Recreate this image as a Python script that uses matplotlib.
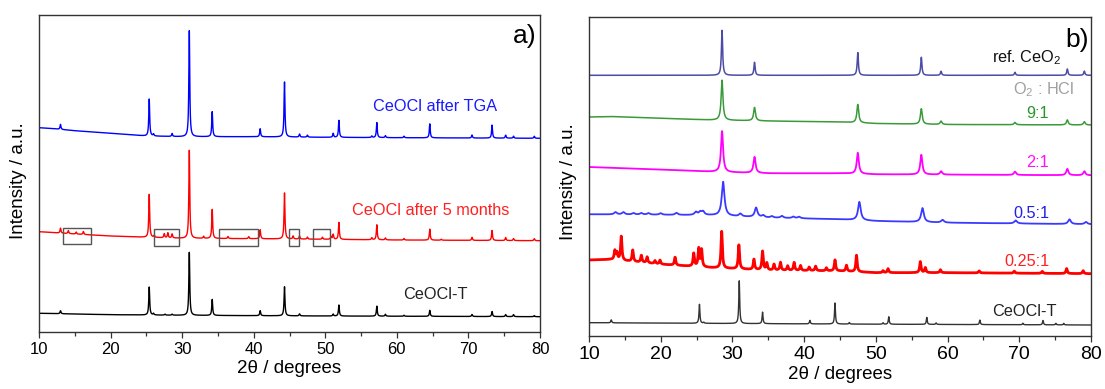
import numpy as np
import matplotlib
matplotlib.use("Agg")
import matplotlib.pyplot as plt
from matplotlib.patches import Rectangle
from matplotlib.ticker import MultipleLocator

plt.rcParams['font.family'] = ['Liberation Sans', 'DejaVu Sans']
plt.rcParams['mathtext.fontset'] = 'custom'
plt.rcParams['mathtext.rm'] = 'Liberation Sans'

# ================= panel a) data (arbitrary intensity units) =================
a_black_base_x = [10, 20, 30, 50, 80]
a_black_base_y = [18.7, 17.3, 16.7, 16.0, 15.3]
a_black_pos = [13.0, 25.4, 26.0, 27.6, 28.6, 31.0, 34.2, 40.9, 44.3, 46.4, 51.1, 51.9,
               57.2, 58.4, 61.0, 64.6, 70.5, 73.3, 75.2, 76.3, 79.2]
a_black_h = [3, 28, 1.5, 1, 1, 63, 16, 5, 29, 2, 2, 11, 10, 2, 1, 6, 2, 5, 2, 2, 1]

a_red_base_x = [10, 15, 20, 25, 30, 40, 50, 60, 80]
a_red_base_y = [100.3, 98.0, 96.0, 94.7, 93.7, 93.3, 92.7, 92.0, 91.3]
a_red_pos = [13.0, 14.1, 15.2, 16.2, 25.4, 26.1, 27.5, 28.0, 28.6, 31.0, 33.0, 34.2,
             36.4, 39.3, 40.9, 44.3, 45.5, 46.4, 47.5, 49.6, 50.8, 51.1, 51.9, 56.5,
             57.2, 58.4, 61.0, 64.6, 66.2, 70.5, 73.3, 75.2, 76.3, 79.2]
a_red_h = [5, 3, 2, 3, 43, 2, 4, 5, 4, 88, 2, 29, 2, 2, 9, 46, 3, 3, 2, 2, 3, 5, 17, 2,
           15, 2, 1.5, 11, 1, 3, 10, 3, 2, 2]

a_blue_base_x = [10, 12, 15, 20, 25, 30, 40, 50, 60, 80]
a_blue_base_y = [204.3, 203.3, 201.3, 198.7, 196.0, 195.3, 195.3, 194.7, 194.3, 193.7]
a_blue_pos = [13.0, 25.4, 26.0, 28.6, 31.0, 34.2, 40.9, 44.3, 46.4, 47.5, 51.1, 51.9,
              56.5, 57.2, 58.4, 61.0, 64.6, 70.5, 73.3, 75.2, 76.3, 79.2]
a_blue_h = [5, 37, 2, 3, 106, 25, 8, 55, 3, 2, 4, 17, 1.5, 15, 2, 1.5, 14, 3, 13, 3, 2, 2]

# highlighted regions on the red pattern: (2theta_min, 2theta_max, y_min, y_max)
a_boxes = [(13.3, 17.2, 87.7, 104.3),
           (26.0, 29.6, 86.0, 102.7),
           (35.1, 40.6, 86.0, 102.7),
           (44.9, 46.3, 86.0, 103.3),
           (48.3, 50.7, 86.0, 102.7)]

# ================= panel b) data =================
b_black_base_x = [10, 30, 50, 80]
b_black_base_y = [13.3, 12.5, 11.8, 11.0]
b_black_pos = [13.1, 25.4, 26.0, 30.95, 34.2, 40.8, 44.3, 46.3, 51.0, 51.8, 57.1,
               58.4, 64.5, 70.5, 73.3, 75.1, 76.2]
b_black_h = [3, 19, 1, 42.7, 11.5, 3.5, 21, 1.5, 1.5, 7.5, 7, 1.5, 4.5, 1.5, 4.3, 1.5, 1.5]

b_red_base_x = [10, 13, 20, 27, 35, 45, 50, 60, 80]
b_red_base_y = [76.0, 76.5, 71.7, 68.3, 65.7, 65.0, 63.3, 63.3, 62.3]
b_red_pos = [13.6, 13.9, 14.5, 16.1, 17.3, 18.1, 19.2, 19.9, 22.0, 24.6, 25.3, 25.7,
             28.5, 30.9, 33.0, 34.2, 34.8, 35.8, 36.7, 37.7, 38.6, 39.5, 40.7, 41.6,
             43.1, 44.3, 45.9, 47.3, 51.0, 51.7, 56.2, 56.9, 59.0, 64.4, 69.3, 73.2,
             76.6, 78.9]
b_red_h = [9, 7, 24, 11.5, 7, 6, 3, 4, 8, 13, 18, 17,
           36.7, 24, 10.3, 18.7, 7, 6, 8, 4.5, 8, 5, 3.5, 4.5,
           3, 11, 6, 16.5, 2, 4, 11, 5, 3, 2, 2, 2, 5, 3]

b_blue_base_x = [10, 20, 27, 35, 45, 50, 60, 80]
b_blue_base_y = [121.7, 121.2, 120.7, 118.3, 116.7, 115.0, 113.3, 111.7]
b_blue_pos = [13.7, 14.8, 16.2, 17.3, 18.3, 20.0, 22.2, 24.9, 25.5, 25.9, 28.7, 31.1,
              33.3, 34.3, 35.5, 36.9, 38.5, 39.3, 47.7, 56.5, 59.3, 69.5, 77.0, 79.3]
b_blue_h = [2.3, 2.3, 1.5, 1.5, 1.5, 1.5, 2, 3, 3, 3.5, 34, 2.7,
            9.5, 2, 1.5, 2, 1.5, 1.5, 18.3, 14, 2.7, 3, 4.7, 2.3]

b_magenta_base_x = [10, 20, 28, 35, 45, 50, 80]
b_magenta_base_y = [169.0, 166.5, 164.0, 162.7, 162.7, 161.7, 160.7]
b_magenta_pos = [28.55, 33.08, 47.48, 56.34, 59.09, 69.4, 76.7, 79.07]
b_magenta_h = [41, 16, 21, 19.7, 3.3, 3.3, 6.3, 4]

b_green_base_x = [10, 13, 20, 27, 35, 45, 50, 60, 80]
b_green_base_y = [219.0, 219.5, 217.7, 216.0, 215.0, 214.0, 212.5, 211.5, 211.0]
b_green_pos = [28.55, 33.08, 47.48, 56.34, 59.09, 69.4, 76.7, 79.07]
b_green_h = [40, 13.3, 18.3, 15.4, 3.3, 2.3, 5, 3.3]

b_ref_base_x = [10, 80]
b_ref_base_y = [260.7, 260.7]
b_ref_pos = [28.55, 33.08, 47.48, 56.34, 59.09, 69.4, 76.7, 79.07]
b_ref_h = [45, 13, 22.7, 18, 4, 3, 6.3, 4.2]

tick_values = [10, 20, 30, 40, 50, 60, 70, 80]

# ================= helpers =================
two_theta = np.linspace(10, 80, 7001)


def pattern(bx, by, pos, h, fwhm):
    y = np.interp(two_theta, bx, by)
    hw = fwhm / 2.0
    for p, a in zip(pos, h):
        y = y + a / (1.0 + ((two_theta - p) / hw) ** 2)
    return y


fig = plt.figure(figsize=(11.05, 3.89), dpi=100)
ax1 = fig.add_axes([39 / 1105, 1 - 332 / 389, 501 / 1105, 317 / 389])
ax2 = fig.add_axes([589 / 1105, 1 - 336 / 389, 502 / 1105, 319 / 389])

for ax, ymax, tfs in ((ax1, 317, 12), (ax2, 319, 14)):
    ax.set_xlim(10, 80)
    ax.set_ylim(0, ymax)
    ax.set_yticks([])
    ax.set_xticks(tick_values)
    ax.xaxis.set_minor_locator(MultipleLocator(5))
    ax.tick_params(axis='x', which='major', direction='out', length=4.3, width=0.9,
                   labelsize=tfs, color='#333333', pad=3)
    ax.tick_params(axis='x', which='minor', direction='out', length=2.8, width=0.9,
                   color='#333333')
    for s in ax.spines.values():
        s.set_color('#333333')
        s.set_linewidth(1.0)
    ax.set_xlabel('2θ / degrees', fontsize=13.5, labelpad=2)
    ax.set_ylabel('Intensity / a.u.', fontsize=13.5)

ax1.yaxis.set_label_coords(-0.024, 0.476)
ax2.yaxis.set_label_coords(-0.024, 0.483)

# ---- panel a ----
ax1.plot(two_theta, pattern(a_black_base_x, a_black_base_y, a_black_pos, a_black_h, 0.15),
         color='black', lw=1.0)
ax1.plot(two_theta, pattern(a_red_base_x, a_red_base_y, a_red_pos, a_red_h, 0.15),
         color='#ff0000', lw=1.0)
ax1.plot(two_theta, pattern(a_blue_base_x, a_blue_base_y, a_blue_pos, a_blue_h, 0.15),
         color='#0000ff', lw=1.0)
for (x0, x1, y0, y1) in a_boxes:
    ax1.add_patch(Rectangle((x0, y0), x1 - x0, y1 - y0, fill=False,
                            edgecolor='#555555', lw=1.0, zorder=3))

ax1.text(56.7, 221.3, 'CeOCl after TGA', color='#1a1aff', fontsize=11.7,
         ha='left', va='baseline')
ax1.text(53.7, 117.0, 'CeOCl after 5 months', color='#ff2020', fontsize=11.7,
         ha='left', va='baseline')
ax1.text(60.9, 32.7, 'CeOCl-T', color='#222222', fontsize=11.7,
         ha='left', va='baseline')
ax1.text(76.2, 289, 'a)', color='black', fontsize=19, ha='left', va='baseline')

# ---- panel b ----
ax2.plot(two_theta, pattern(b_black_base_x, b_black_base_y, b_black_pos, b_black_h, 0.15),
         color='#333333', lw=1.0)
ax2.plot(two_theta, pattern(b_red_base_x, b_red_base_y, b_red_pos, b_red_h, 0.22),
         color='#ff0000', lw=2.0)
ax2.plot(two_theta, pattern(b_blue_base_x, b_blue_base_y, b_blue_pos, b_blue_h, 0.45),
         color='#3a3aff', lw=1.3)
ax2.plot(two_theta, pattern(b_magenta_base_x, b_magenta_base_y, b_magenta_pos, b_magenta_h, 0.35),
         color='#ff00ff', lw=1.3)
ax2.plot(two_theta, pattern(b_green_base_x, b_green_base_y, b_green_pos, b_green_h, 0.3),
         color='#3a9a3a', lw=1.1)
ax2.plot(two_theta, pattern(b_ref_base_x, b_ref_base_y, b_ref_pos, b_ref_h, 0.2),
         color='#4c4ca6', lw=1.1)

ax2.text(66.2, 274, r'ref. CeO$_\mathregular{2}$', color='#111111', fontsize=11.7,
         ha='left', va='baseline')
ax2.text(69.1, 241.7, r'O$_\mathregular{2}$ : HCl', color='#a0a0a0', fontsize=11.7,
         ha='left', va='baseline')
ax2.text(71.0, 218.3, '9:1', color='#2a962a', fontsize=11.7, ha='left', va='baseline')
ax2.text(71.0, 169.3, '2:1', color='#ff10ff', fontsize=11.7, ha='left', va='baseline')
ax2.text(69.2, 117.7, '0.5:1', color='#2020e8', fontsize=11.7, ha='left', va='baseline')
ax2.text(67.9, 70.0, '0.25:1', color='#ff2020', fontsize=11.7, ha='left', va='baseline')
ax2.text(66.2, 20.0, 'CeOCl-T', color='#222222', fontsize=11.7, ha='left', va='baseline')
ax2.text(76.4, 289, 'b)', color='black', fontsize=19, ha='left', va='baseline')

fig.savefig('out.png', dpi=100)
